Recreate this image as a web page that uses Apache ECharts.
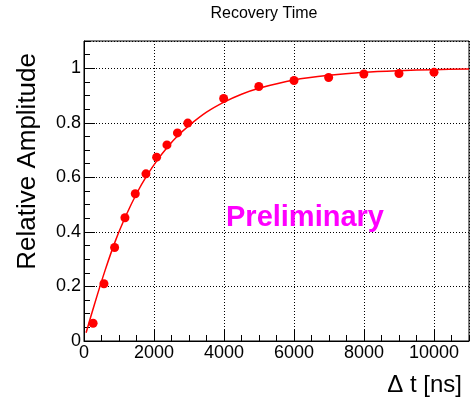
<!DOCTYPE html>
<html><head><meta charset="utf-8">
<script src="https://cdn.jsdelivr.net/npm/echarts@6/dist/echarts.min.js"></script>
<style>html,body{margin:0;padding:0;background:#fff}#c{width:470px;height:403px}</style>
</head><body><div id="c"></div>
<script>
const titleText = 'Recovery Time';
const xName = 'Δ t [ns]';
const yName = 'Relative Amplitude';
const watermark = 'Preliminary';

// measured points
const pointTimes = [260, 570, 875, 1170, 1465, 1770, 2075, 2370, 2670, 2965, 3990, 4995, 6000, 6990, 7995, 9000, 10000];
const pointAmps  = [0.065, 0.210, 0.343, 0.452, 0.540, 0.613, 0.674, 0.719, 0.763, 0.799, 0.889, 0.933, 0.955, 0.966, 0.979, 0.981, 0.985];

// fit curve
const fitTimes = [60, 300, 600, 900, 1200, 1500, 1800, 2100, 2400, 2700, 3000, 3500, 4000, 4500, 5000, 6000, 7000, 8000, 9000, 10000, 11000];
const fitAmps  = [0.030, 0.135, 0.258, 0.368, 0.460, 0.540, 0.607, 0.664, 0.713, 0.755, 0.790, 0.839, 0.876, 0.905, 0.927, 0.957, 0.974, 0.985, 0.991, 0.995, 0.997];

const xMin = 0, xMax = 11000, xMajor = 2000, xMinor = 500;
const yMin = 0, yMax = 1.1, yMajor = 0.2, yMinor = 0.05;

const FONT = 'Liberation Sans, Arial, Helvetica, sans-serif';
const chart = echarts.init(document.getElementById('c'), null, {renderer: 'canvas'});

const majorAxis = (min, max, interval) => ({
  type: 'value', min, max, interval,
  axisLine: {show: true, onZero: false, lineStyle: {color: '#000', width: 1}},
  axisTick: {show: true, inside: true, length: 11, lineStyle: {color: '#000', width: 1}},
  axisLabel: {show: true, fontSize: 18, color: '#000', fontFamily: FONT, margin: 3, showMaxLabel: false,
    formatter: v => String(+v.toFixed(4))},
  splitLine: {show: true, lineStyle: {color: '#000', width: 1, type: [1, 2]}},
  minorTick: {show: false}
});
const minorAxis = (min, max, interval) => ({
  type: 'value', min, max, interval,
  axisLine: {show: false, onZero: false},
  axisTick: {show: true, inside: true, length: 6, lineStyle: {color: '#000', width: 1}},
  axisLabel: {show: false},
  splitLine: {show: false}
});

const xa0 = majorAxis(xMin, xMax, xMajor); xa0.position = 'bottom';
const xa1 = minorAxis(xMin, xMax, xMinor); xa1.position = 'bottom';
const ya0 = majorAxis(yMin, yMax, yMajor); ya0.position = 'left';
const ya1 = minorAxis(yMin, yMax, yMinor); ya1.position = 'left';

chart.setOption({
  animation: false,
  backgroundColor: '#fff',
  grid: {left: 84, right: 1, top: 41, bottom: 62, show: true, borderColor: '#000', borderWidth: 1, backgroundColor: 'transparent', containLabel: false, outerBoundsMode: 'none'},
  xAxis: [xa0, xa1],
  yAxis: [ya0, ya1],
  series: [
    {
      type: 'line', xAxisIndex: 0, yAxisIndex: 0,
      data: fitTimes.map((t, i) => [t, fitAmps[i]]),
      showSymbol: false, symbol: 'none', smooth: 0.3, clip: true,
      lineStyle: {color: '#ff0000', width: 1.5}, z: 3
    },
    {
      type: 'scatter', xAxisIndex: 0, yAxisIndex: 0,
      data: pointTimes.map((t, i) => [t, pointAmps[i]]),
      symbol: 'circle', symbolSize: 9,
      itemStyle: {color: '#ff0000', opacity: 1}, z: 4
    }
  ],
  graphic: [
    {type: 'text', x: 264, y: 14, style: {text: titleText, fontSize: 16, fontFamily: FONT, fill: '#000', align: 'center', verticalAlign: 'middle'}},
    {type: 'text', x: 28, y: 53, rotation: Math.PI / 2, style: {text: yName, fontSize: 26, fontFamily: FONT, fill: '#000', align: 'right', verticalAlign: 'middle'}},
    {type: 'text', x: 462, y: 385, style: {text: xName, fontSize: 24, fontFamily: FONT, fill: '#000', align: 'right', verticalAlign: 'middle'}},
    {type: 'text', x: 226, y: 218, z: 10, style: {text: watermark, fontSize: 29, fontWeight: 'bold', fontFamily: FONT, fill: '#ff00ff', align: 'left', verticalAlign: 'middle'}}
  ]
});
</script></body></html>
